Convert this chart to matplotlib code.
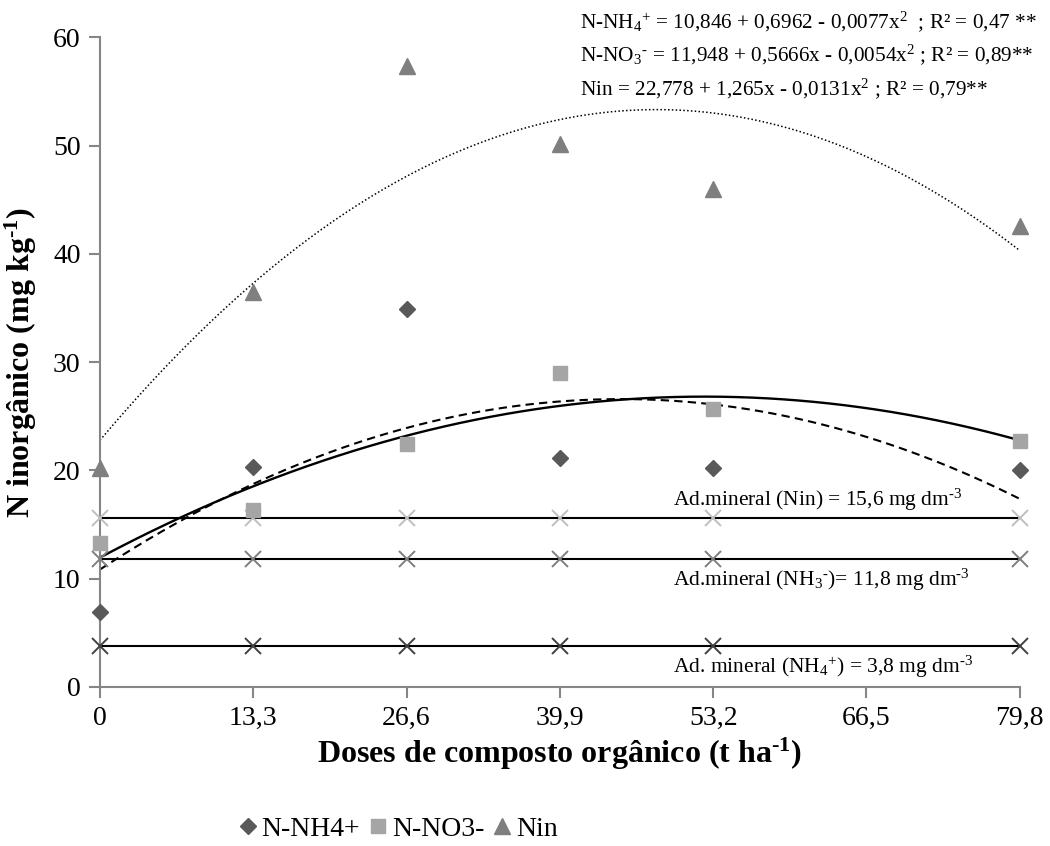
import numpy as np
import matplotlib
matplotlib.use("Agg")
import matplotlib.pyplot as plt
from matplotlib.lines import Line2D

plt.rcParams['font.family'] = ['Liberation Serif', 'DejaVu Serif']
plt.rcParams['mathtext.fontset'] = 'custom'
plt.rcParams['mathtext.rm'] = 'Liberation Serif'
plt.rcParams['mathtext.it'] = 'Liberation Serif:italic'
plt.rcParams['mathtext.bf'] = 'Liberation Serif:bold'

# data
doses = [0, 13.3, 26.6, 39.9, 53.2, 79.8]
tick_pos = [0, 13.3, 26.6, 39.9, 53.2, 66.5, 79.8]
tick_labels = ['0', '13,3', '26,6', '39,9', '53,2', '66,5', '79,8']

nh4 = [6.9, 20.3, 34.9, 21.1, 20.2, 20.0]
no3 = [13.3, 16.3, 22.4, 29.0, 25.7, 22.7]
nin = [20.2, 36.5, 57.3, 50.1, 46.0, 42.6]

# regression coefficients (a + b x + c x^2) printed on the chart
coef_nh4 = (10.846, 0.6962, -0.0077)
coef_no3 = (11.948, 0.5666, -0.0054)
coef_nin = (22.778, 1.265, -0.0131)

# mineral fertiliser reference levels
ref_nin = 15.6
ref_nh3 = 11.8
ref_nh4 = 3.8

H = '\u2010'  # short hyphen for superscripts

fig = plt.figure(figsize=(10.5, 8.46), dpi=100)
ax = fig.add_axes([0.0952, 0.188, 0.876, 0.768])

# reference lines with x markers
for val, col in [(ref_nin, '#BFBFBF'), (ref_nh3, '#7F7F7F'), (ref_nh4, '#404040')]:
    ax.plot(doses, [val] * len(doses), color='black', lw=1.5, zorder=2)
    ax.plot(doses, [val] * len(doses), ls='none', marker='x', ms=11, mew=1.4,
            color=col, zorder=3, clip_on=False)

# trend curves
xx = np.linspace(0, 79.8, 300)
def poly(c):
    return c[0] + c[1] * xx + c[2] * xx ** 2

ax.plot(xx, poly(coef_nin), color='black', lw=1.1, ls=(0, (1, 1.5)), zorder=2)
ax.plot(xx, poly(coef_nh4), color='black', lw=1.5, ls=(0, (4, 2.5)), zorder=2)
ax.plot(xx, poly(coef_no3), color='black', lw=1.7, zorder=2)

# data points
ax.plot(doses, nh4, ls='none', marker='D', ms=8, color='#595959', zorder=4, clip_on=False)
ax.plot(doses, no3, ls='none', marker='s', ms=10, color='#A5A5A5', zorder=4, clip_on=False)
ax.plot(doses, nin, ls='none', marker='^', ms=11, color='#7F7F7F', zorder=4, clip_on=False)

ax.set_xlim(0, 79.8)
ax.set_ylim(0, 60)
ax.set_xticks(tick_pos)
ax.set_xticklabels(tick_labels)
ax.set_yticks(range(0, 61, 10))
for s in ['top', 'right']:
    ax.spines[s].set_visible(False)
for s in ['left', 'bottom']:
    ax.spines[s].set_color('#868686')
    ax.spines[s].set_linewidth(1.5)
ax.tick_params(axis='both', colors='#868686', length=8, width=1.5, labelsize=20,
               labelcolor='black', pad=6)

ax.set_xlabel('Doses de composto orgânico (t ha$^{\\mathbf{' + H + '1}}$)', fontsize=23,
              fontweight='bold', labelpad=3)
ax.set_ylabel('N inorgânico (mg kg$^{\\mathbf{' + H + '1}}$)', fontsize=23,
              fontweight='bold', labelpad=10)

# equations
eq_fs = 15.3
fig.text(0.552, 0.975, 'N-NH$_4$$^{+}$ = 10,846 + 0,6962 - 0,0077x$^2$  ; R² = 0,47 **',
         fontsize=eq_fs, va='center')
fig.text(0.552, 0.935, 'N-NO$_3$$^{' + H + '}$ = 11,948 + 0,5666x - 0,0054x$^2$ ; R² = 0,89**',
         fontsize=eq_fs, va='center')
fig.text(0.552, 0.895, 'Nin = 22,778 + 1,265x - 0,0131x$^2$ ; R² = 0,79**',
         fontsize=eq_fs, va='center')

# reference labels
lab_fs = 15.5
ax.text(49.7, ref_nin + 0.5, 'Ad.mineral (Nin) = 15,6 mg dm$^{' + H + '3}$',
        fontsize=lab_fs, va='bottom')
ax.text(49.7, ref_nh3 - 0.7, 'Ad.mineral (NH$_3$$^{' + H + '}$)= 11,8 mg dm$^{' + H + '3}$',
        fontsize=lab_fs, va='top')
ax.text(49.7, ref_nh4 - 0.7, 'Ad. mineral (NH$_4$$^{+}$) = 3,8 mg dm$^{' + H + '3}$',
        fontsize=lab_fs, va='top')

# legend
handles = [
    Line2D([], [], ls='none', marker='D', ms=8, color='#595959'),
    Line2D([], [], ls='none', marker='s', ms=10, color='#A5A5A5'),
    Line2D([], [], ls='none', marker='^', ms=11, color='#7F7F7F'),
]
fig.legend(handles, ['N-NH4+', 'N-NO3-', 'Nin'], loc='center', bbox_to_anchor=(0.379, 0.02),
           ncol=3, frameon=False, fontsize=20, handletextpad=0.15, columnspacing=0.3,
           handlelength=0.7, borderpad=0.1)

fig.savefig('out.png', dpi=100)
